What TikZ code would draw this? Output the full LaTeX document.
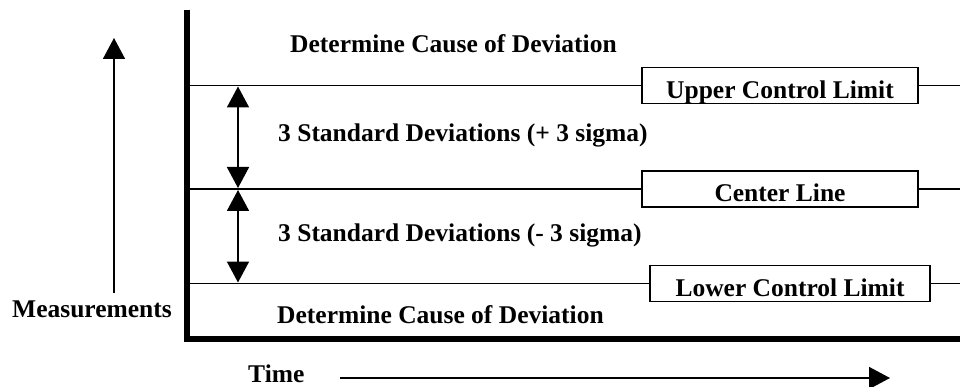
\documentclass[tikz,border=0pt]{standalone}
\usepackage{fontspec}
\setmainfont{Liberation Serif}
\usetikzlibrary{arrows.meta}
\tikzset{
  ctlbox/.style={draw, line width=1.6pt, inner sep=0pt, text height=31pt, text depth=5pt,
    minimum width=276pt, font=\fontsize{25.5}{30}\selectfont\bfseries},
  bodytext/.style={anchor=base west, inner sep=0pt, font=\fontsize{25.5}{30}\selectfont\bfseries},
  axislabel/.style={anchor=base west, inner sep=0pt, font=\fontsize{25.5}{30}\selectfont\bfseries},
  limitline/.style={line width=1.5pt},
}

\begin{document}
\begin{tikzpicture}[x=1pt,y=-1pt,>={Triangle[width=22pt,length=21pt]}]
                \useasboundingbox (0,0) rectangle (960,387);
                % axes
                \coordinate (axtop) at (187,10);
                \coordinate (axcorner) at (187,339);
                \coordinate (axright) at (960,339);
                \draw [line width=5.5pt] (axtop) -- (axcorner) -- (axright);
                % limit lines with their boxes
                \coordinate (ucl0) at (190,85.5);
                \coordinate (ucl1) at (960,85.5);
                \coordinate (cl0) at (190,189);
                \coordinate (cl1) at (960,189);
                \coordinate (lcl0) at (190,283.5);
                \coordinate (lcl1) at (960,283.5);
                \node [ctlbox] (ucl) at (780,85.5) {Upper Control Limit};
                \node [ctlbox] (cl) at (780,189) {Center Line};
                \node [ctlbox,minimum width=280pt] (lcl) at (790,283.5) {Lower Control Limit};
                \draw [limitline] (ucl0) -- (ucl.west);
                \draw [limitline] (ucl.east) -- (ucl1);
                \draw [limitline] (cl0) -- (cl.west);
                \draw [limitline] (cl.east) -- (cl1);
                \draw [limitline] (lcl0) -- (lcl.west);
                \draw [limitline] (lcl.east) -- (lcl1);
                % sigma arrows
                \coordinate (sig1) at (238,86.5);
                \coordinate (sig2) at (238,188);
                \coordinate (sig3) at (238,190);
                \coordinate (sig4) at (238,282.5);
                \draw [<->,line width=1.8pt] (sig1) -- (sig2);
                \draw [<->,line width=1.8pt] (sig3) -- (sig4);
                % texts
                \node [bodytext] (devtop) at (290,53) {Determine Cause of Deviation};
                \node [bodytext] (sdplus) at (278,142) {3 Standard Deviations (+ 3 sigma)};
                \node [bodytext] (sdminus) at (278,241) {3 Standard Deviations (- 3 sigma)};
                \node [bodytext] (devbot) at (277,323) {Determine Cause of Deviation};
                % axis labels
                \node [axislabel] (meas) at (12,317) {Measurements};
                \node [axislabel] (time) at (248,382) {Time};
                \coordinate (meas0) at (114,293);
                \coordinate (meas1) at (114,38);
                \draw [->,line width=1.6pt] (meas0) -- (meas1);
                \coordinate (time0) at (340,378);
                \coordinate (time1) at (890,378);
                \draw [->,line width=1.6pt] (time0) -- (time1);
\end{tikzpicture}
\end{document}
